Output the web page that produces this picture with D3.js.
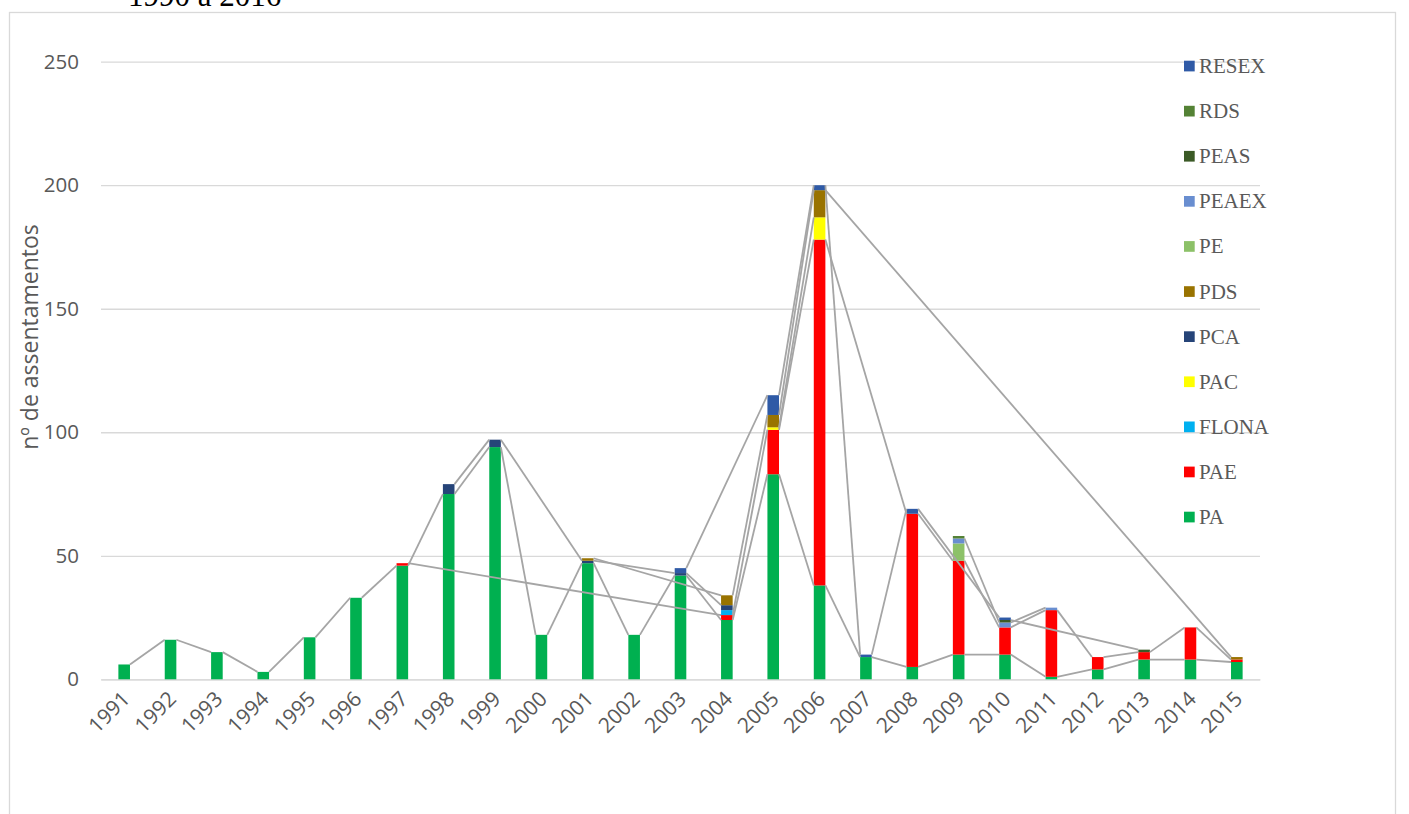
<!DOCTYPE html>
<html>
<head>
<meta charset="utf-8">
<script src="https://cdn.jsdelivr.net/npm/d3@7/dist/d3.min.js"></script>
<style>
  body { margin: 0; background: #fff; }
  svg { display: block; }
</style>
</head>
<body>
<svg id="chart" width="1409" height="814"></svg>
<script>
// values, one entry per year (null = no settlement of that type)
var years = [1991, 1992, 1993, 1994, 1995, 1996, 1997, 1998, 1999, 2000, 2001, 2002, 2003,
             2004, 2005, 2006, 2007, 2008, 2009, 2010, 2011, 2012, 2013, 2014, 2015];

var PA    = [6, 16, 11, 3, 17, 33, 46, 75, 94, 18, 47, 18, 42, 24, 83, 38, 9, 5, 10, 10, 1, 4, 8, 8, 7];
var PAE   = [null, null, null, null, null, null, 1, null, null, null, null, null, null, 2, 18, 140, null, 62, 38, 11, 27, 5, 3, 13, 1];
var FLONA = [null, null, null, null, null, null, null, null, null, null, null, null, null, 2, null, null, null, null, null, null, null, null, null, null, null];
var PAC   = [null, null, null, null, null, null, null, null, null, null, null, null, null, null, 1, 9, null, null, null, null, null, null, null, null, null];
var PCA   = [null, null, null, null, null, null, null, 4, 3, null, 1, null, 1, 2, null, null, null, null, null, null, null, null, null, null, null];
var PDS   = [null, null, null, null, null, null, null, null, null, null, 1, null, null, 4, 5, 11, null, null, null, null, null, null, null, null, 1];
var PE    = [null, null, null, null, null, null, null, null, null, null, null, null, null, null, null, null, null, null, 7, null, null, null, null, null, null];
var PEAEX = [null, null, null, null, null, null, null, null, null, null, null, null, null, null, null, null, null, null, 2, 2, 1, null, null, null, null];
var PEAS  = [null, null, null, null, null, null, null, null, null, null, null, null, null, null, null, null, null, null, null, 1, null, null, 1, null, null];
var RDS   = [null, null, null, null, null, null, null, null, null, null, null, null, null, null, null, null, null, null, 1, null, null, null, null, null, null];
var RESEX = [null, null, null, null, null, null, null, null, null, null, null, null, 2, null, 8, 2, 1, 2, null, 1, null, null, null, null, null];

var seriesNames  = ["PA", "PAE", "FLONA", "PAC", "PCA", "PDS", "PE", "PEAEX", "PEAS", "RDS", "RESEX"];
var seriesValues = [PA, PAE, FLONA, PAC, PCA, PDS, PE, PEAEX, PEAS, RDS, RESEX];
var yTicks = [0, 50, 100, 150, 200, 250];

var colors = ["#00b050", "#ff0000", "#00b0f0", "#ffff00", "#264478", "#997300",
              "#8cc168", "#698ed0", "#3b5a26", "#548235", "#2f5aa6"];

var svg = d3.select("#chart"),
    plotLeft = 101, plotRight = 1260, plotTop = 61.7, plotBottom = 679.3,
    barWidth = 11.6,
    axisFont = "'Open Sans', sans-serif",
    textColor = "#595959",
    gridColor = "#d9d9d9";

// outer chart border (bottom runs off the page)
svg.append("rect")
  .attr("x", 9.5).attr("y", 12.5)
  .attr("width", 1386).attr("height", 900)
  .attr("fill", "none")
  .attr("stroke", gridColor)
  .attr("stroke-width", 1.3);

// title, cut by the top of the page
svg.append("text")
  .attr("x", 128).attr("y", 6)
  .attr("font-family", "'Liberation Serif', serif")
  .attr("font-size", 31)
  .attr("fill", "#000")
  .text("1990 a 2016");

// build a table for d3.stack from the named arrays
var table = years.map(function(yr, i) {
  var row = { year: yr };
  seriesNames.forEach(function(name, s) { row[name] = seriesValues[s][i] || 0; });
  return row;
});

var stacked = d3.stack().keys(seriesNames)(table);

var x = d3.scaleBand()
    .domain(years)
    .range([plotLeft, plotRight]);

var y = d3.scaleLinear()
    .domain([0, 250])
    .range([plotBottom, plotTop]);

// grid + y labels
var yAxis = d3.axisLeft(y)
    .tickValues(yTicks)
    .tickSize(-(plotRight - plotLeft))
    .tickPadding(22);

var gy = svg.append("g")
    .attr("transform", "translate(" + plotLeft + ",0)")
    .call(yAxis);
gy.select(".domain").remove();
gy.selectAll(".tick line").attr("stroke", gridColor).attr("stroke-width", 1.3);
gy.selectAll(".tick text")
  .attr("font-family", axisFont)
  .attr("font-size", 20.5)
  .attr("fill", textColor);

// x labels
var xAxis = d3.axisBottom(x).tickSize(0).tickPadding(0);
var gx = svg.append("g")
    .attr("transform", "translate(0," + plotBottom + ")")
    .call(xAxis);
gx.select(".domain").attr("stroke", gridColor).attr("stroke-width", 1.3);
gx.selectAll(".tick text")
  .attr("font-family", axisFont)
  .attr("font-size", 21)
  .attr("fill", textColor)
  .attr("text-anchor", "end")
  .attr("dy", null)
  .attr("y", 0)
  .attr("transform", "translate(7,21) rotate(-45)");

// y axis title
svg.append("text")
  .attr("transform", "translate(38,337) rotate(-90)")
  .attr("text-anchor", "middle")
  .attr("font-family", axisFont)
  .attr("font-size", 23)
  .attr("fill", textColor)
  .text("nº de assentamentos");

// stacked bars
var layer = svg.selectAll(".layer")
    .data(stacked)
  .enter().append("g")
    .attr("class", "layer")
    .attr("fill", function(d, i) { return colors[i]; });

layer.selectAll("rect")
    .data(function(d) { return d.filter(function(p) { return p[1] > p[0]; }); })
  .enter().append("rect")
    .attr("x", function(p) { return x(p.data.year) + x.bandwidth() / 2 - barWidth / 2; })
    .attr("width", barWidth)
    .attr("y", function(p) { return y(p[1]); })
    .attr("height", function(p) { return y(p[0]) - y(p[1]); });

// series lines: join the top of each series to its next non-blank bar
var seriesLines = [];
stacked.forEach(function(layerData, s) {
  var prev = null;
  layerData.forEach(function(p, i) {
    if (seriesValues[s][i] == null) return;
    if (prev) {
      seriesLines.push({
        x1: x(prev.data.year) + x.bandwidth() / 2 + barWidth / 2, y1: y(prev[1]),
        x2: x(p.data.year) + x.bandwidth() / 2 - barWidth / 2, y2: y(p[1])
      });
    }
    prev = p;
  });
});

svg.append("g").selectAll("line")
    .data(seriesLines)
  .enter().append("line")
    .attr("x1", function(d) { return d.x1; })
    .attr("y1", function(d) { return d.y1; })
    .attr("x2", function(d) { return d.x2; })
    .attr("y2", function(d) { return d.y2; })
    .attr("stroke", "#a5a5a5")
    .attr("stroke-width", 1.8);

// legend, top entry is the last series
var legendY = d3.scaleLinear().domain([0, 10]).range([66, 517]);
var legend = svg.selectAll(".legend-item")
    .data(seriesNames.slice().reverse())
  .enter().append("g")
    .attr("class", "legend-item");

legend.append("rect")
  .attr("x", 1184)
  .attr("y", function(d, i) { return legendY(i) - 5.3; })
  .attr("width", 10.7)
  .attr("height", 10.7)
  .attr("fill", function(d) { return colors[seriesNames.indexOf(d)]; });

legend.append("text")
  .attr("x", 1199)
  .attr("y", function(d, i) { return legendY(i) + 7; })
  .attr("font-family", "'Liberation Serif', serif")
  .attr("font-size", 21)
  .attr("fill", textColor)
  .text(function(d) { return d; });
</script>
</body>
</html>
